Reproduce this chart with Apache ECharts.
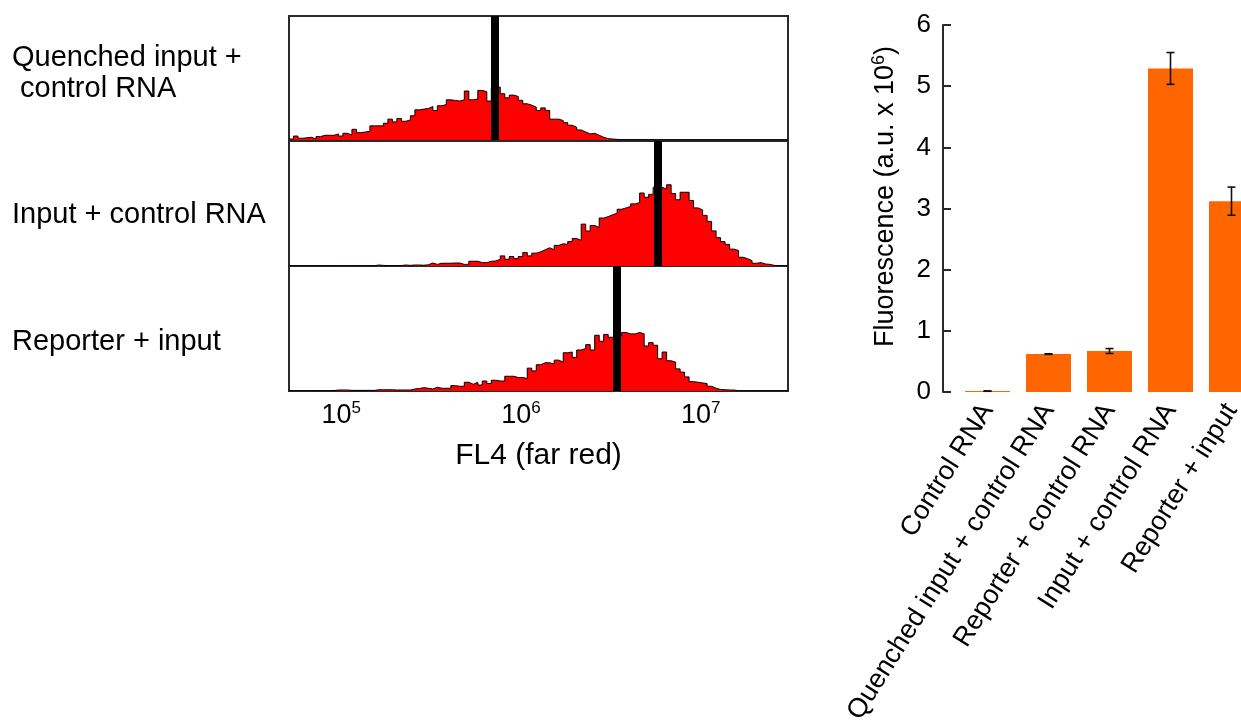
<!DOCTYPE html>
<html>
<head>
<meta charset="utf-8">
<script src="https://cdn.jsdelivr.net/npm/echarts@6/dist/echarts.min.js"></script>
<style>
html,body{margin:0;padding:0;background:#fff;}
#chart{width:1241px;height:720px;}
</style>
</head>
<body>
<div id="chart"></div>
<script>
// ---------- Histogram data (FL4, log bins) ----------
const histBinLogStart = 4.71;   // log10 of first bin edge
const histBinLogStep = 0.025;   // bin width in decades
const panelLabels = ['Quenched input +\n control RNA', 'Input + control RNA', 'Reporter + input'];

// counts, as % of panel height
const quenchedCounts = [
  0.8,3.2,1.4,1.8,2.2,0.8,2.7,3.8,3.8,3.8,
  4.9,3.2,5.4,4,8.6,5.9,6.5,7,11.4,11.4,
  11.4,13.5,16.8,14.6,17.3,15.1,16.2,19.5,24.3,24.9,
  25.4,27,23.8,27.6,28.6,32.4,31.9,31.4,32.4,39.5,
  32.4,33,40,38.9,31.4,42,42.7,37.3,34,36.2,
  35.1,32,29.2,28.1,26.5,23.8,25.9,23.8,16.8,16.8,
  15.7,14,11.9,10.3,8.1,6.5,4.9,5.4,3.8,2.2,
  1.1,0.8,0.5,0.3,0.2,0.2,0.2,0.2,0.2,0.2,
  0.2,0,0,0,0,0,0,0,0,0,
  0,0,0,0,0,0,0,0,0,0,
  0,0,0,0,0,0,0,0,0,0,
  0
];
const inputCounts = [
  0.1,0.1,0.1,0.1,0.1,0.1,0.1,0.1,0.1,0.1,
  0.2,0.2,0.2,0.2,0.2,0.2,0.2,0.2,0.2,0.8,
  0.5,0.3,0.3,0.3,0.4,0.8,0.5,0.8,0.8,0.6,
  1,2.4,1.3,2.2,2.2,2.2,2.4,2.4,1.3,1.3,
  3.8,3.8,2.7,2.7,3.8,4,5.4,8.1,5.4,7.6,
  5.9,7.6,10.8,8.1,10.3,11.4,13,14.6,13,16.5,
  17.8,17.3,19.5,22,20.5,33.5,28,32.4,30.8,38.4,
  39.5,41,42.2,45.4,46.5,47.6,49.7,50.8,58.4,55,
  57.3,63,63,61.6,65,58,53,59,59,52.4,
  46.5,44.9,40.5,35.7,28.1,22.7,19.5,17.3,13.5,12.4,
  7,5.9,4.3,2.2,2.7,1.6,1.3,0.5,0.3,0.2,
  0.1
];
const reporterCounts = [
  0.3,0.3,0.3,0.3,0.3,0.3,0.3,0.3,0.3,0.3,
  0.8,0.8,0.8,0.5,0.5,0.5,0.5,0.5,0.5,1,
  1,1,1,0.8,0.8,0.8,0.8,1.6,2,2.7,
  2.2,1.6,3,2.2,2.2,2.2,4.3,3.8,3.8,7,
  5.4,7,4.8,8,6,8.6,8,8,11.8,11.8,
  10.8,10.8,10,18.3,16.1,21,22.6,22.6,21.5,24.7,
  23.1,30.6,31.2,26.9,32.8,34,37.1,32.8,44.6,39.8,
  45.2,43,44,44,46.8,45.7,45.7,46.8,45.7,36,
  38.7,36.6,25.8,31.2,24.2,23.1,17.7,15.1,11.3,7.5,
  7,6.5,5.9,3.8,2.2,1.2,1,0.8,0.8,0.2,
  0.2,0.2,0.2,0.2,0.2,0.2,0.2,0.2,0.2,0.2,
  0.2
];
const histCounts = [quenchedCounts, inputCounts, reporterCounts];
const medians = [7.15e5, 5.73e6, 3.40e6];
const histAxisName = 'FL4 (far red)';

// ---------- Bar chart data ----------
const barCategories = ['Control RNA', 'Quenched input + control RNA', 'Reporter + control RNA', 'Input + control RNA', 'Reporter + input'];
const barValues = [0.015, 0.62, 0.67, 5.29, 3.12];
const barErrors = [0.003, 0.005, 0.04, 0.26, 0.23];
const barAxisTicks = [0, 1, 2, 3, 4, 5, 6];

const FONT = 'Liberation Sans, Arial, Helvetica, sans-serif';

const chart = echarts.init(document.getElementById('chart'), null, {renderer: 'canvas'});

const logMin = Math.pow(10, histBinLogStart);
const logMax = Math.pow(10, histBinLogStart + histBinLogStep * quenchedCounts.length);

function histSeriesData(counts) {
  const pts = counts.map((c, k) => [Math.pow(10, histBinLogStart + histBinLogStep * k), c]);
  pts.push([Math.pow(10, histBinLogStart + histBinLogStep * counts.length), counts[counts.length - 1]]);
  return pts;
}

const gridTops = [16, 141, 266];
const gridHeights = [124, 125, 125];
const grids = [], xAxes = [], yAxes = [], series = [];

for (let i = 0; i < 3; i++) {
  grids.push({left: 289, width: 499, top: gridTops[i], height: gridHeights[i], show: true,
    outerBoundsMode: 'none',
    borderColor: '#2a2a2a', borderWidth: 2, backgroundColor: 'transparent'});
  const isBottom = i === 2;
  xAxes.push({
    type: 'log', logBase: 10, gridIndex: i, min: logMin, max: logMax,
    axisLine: {show: false}, axisTick: {show: false}, splitLine: {show: false},
    axisLabel: {
      show: isBottom, margin: 9, showMinLabel: false, showMaxLabel: false,
      formatter: function (v) {
        const e = Math.log10(v); const r = Math.round(e);
        return Math.abs(e - r) < 1e-6 ? '{b|10}{s|' + r + '}' : '';
      },
      rich: {
        b: {fontSize: 27, fontFamily: FONT, color: '#000', lineHeight: 31},
        s: {fontSize: 17, fontFamily: FONT, color: '#000', verticalAlign: 'top', lineHeight: 17}
      }
    },
    name: isBottom ? histAxisName : '',
    nameLocation: 'middle', nameGap: 50,
    nameTextStyle: {fontSize: 30, fontFamily: FONT, color: '#000'}
  });
  yAxes.push({type: 'value', gridIndex: i, min: 0, max: 100, show: false});
  series.push({
    type: 'line', xAxisIndex: i, yAxisIndex: i, step: 'end',
    data: histSeriesData(histCounts[i]), showSymbol: false, symbol: 'none',
    lineStyle: {color: '#000', width: 1},
    areaStyle: {color: '#ff0000', opacity: 1},
    silent: true, z: 2,
    markLine: {
      silent: true, symbol: ['none', 'none'], label: {show: false},
      lineStyle: {color: '#000', width: 8, type: 'solid'},
      emphasis: {disabled: true},
      data: [{xAxis: medians[i]}]
    }
  });
}

// Bar chart grid (index 3)
grids.push({left: 957, top: 25, width: 305, height: 367, show: false, outerBoundsMode: 'none', containLabel: false});
xAxes.push({
  type: 'category', gridIndex: 3, data: barCategories,
  axisLine: {show: false}, axisTick: {show: false},
  axisLabel: {rotate: 58, interval: 0, margin: 14, fontSize: 27, fontFamily: FONT, color: '#000'}
});
yAxes.push({
  type: 'value', gridIndex: 3, min: barAxisTicks[0], max: barAxisTicks[barAxisTicks.length - 1], interval: 1,
  offset: 14,
  axisLine: {show: true, lineStyle: {color: '#2a2a2a', width: 2}},
  axisTick: {show: true, inside: true, length: 8, lineStyle: {color: '#2a2a2a', width: 2}},
  axisLabel: {fontSize: 26, fontFamily: FONT, color: '#000', margin: 12},
  splitLine: {show: false},
  name: '{a|Fluorescence (a.u. x 10}{s|6}{a|)}',
  nameLocation: 'middle', nameGap: 42,
  nameTextStyle: {
    padding: [0, 0, 0, 24],
    rich: {
      a: {fontSize: 27, fontFamily: FONT, color: '#000', lineHeight: 31},
      s: {fontSize: 18, fontFamily: FONT, color: '#000', verticalAlign: 'top', lineHeight: 18}
    }
  }
});
series.push({
  type: 'bar', xAxisIndex: 3, yAxisIndex: 3, data: barValues, barWidth: 45,
  itemStyle: {color: '#ff6600'}, silent: true
});
series.push({
  type: 'custom', xAxisIndex: 3, yAxisIndex: 3, silent: true, z: 5,
  data: barValues.map((v, i) => [i, v - barErrors[i], v + barErrors[i]]),
  renderItem: function (params, api) {
    const lo = api.coord([api.value(0), api.value(1)]);
    const hi = api.coord([api.value(0), api.value(2)]);
    const st = {stroke: '#111', lineWidth: 1.6};
    const h = 4;
    return {type: 'group', children: [
      {type: 'line', shape: {x1: lo[0], y1: lo[1], x2: hi[0], y2: hi[1]}, style: st},
      {type: 'line', shape: {x1: lo[0] - h, y1: lo[1], x2: lo[0] + h, y2: lo[1]}, style: st},
      {type: 'line', shape: {x1: hi[0] - h, y1: hi[1], x2: hi[0] + h, y2: hi[1]}, style: st}
    ]};
  }
});

const labelY = [73.5, 215, 342];
const graphics = panelLabels.map((t, i) => ({
  type: 'text', silent: true,
  style: {x: 12, y: labelY[i], text: t, fontSize: 29, fontFamily: FONT, fill: '#000',
    verticalAlign: 'middle', lineHeight: 31}
}));

chart.setOption({
  animation: false,
  backgroundColor: '#fff',
  grid: grids, xAxis: xAxes, yAxis: yAxes, series: series,
  graphic: graphics
});
</script>
</body>
</html>
